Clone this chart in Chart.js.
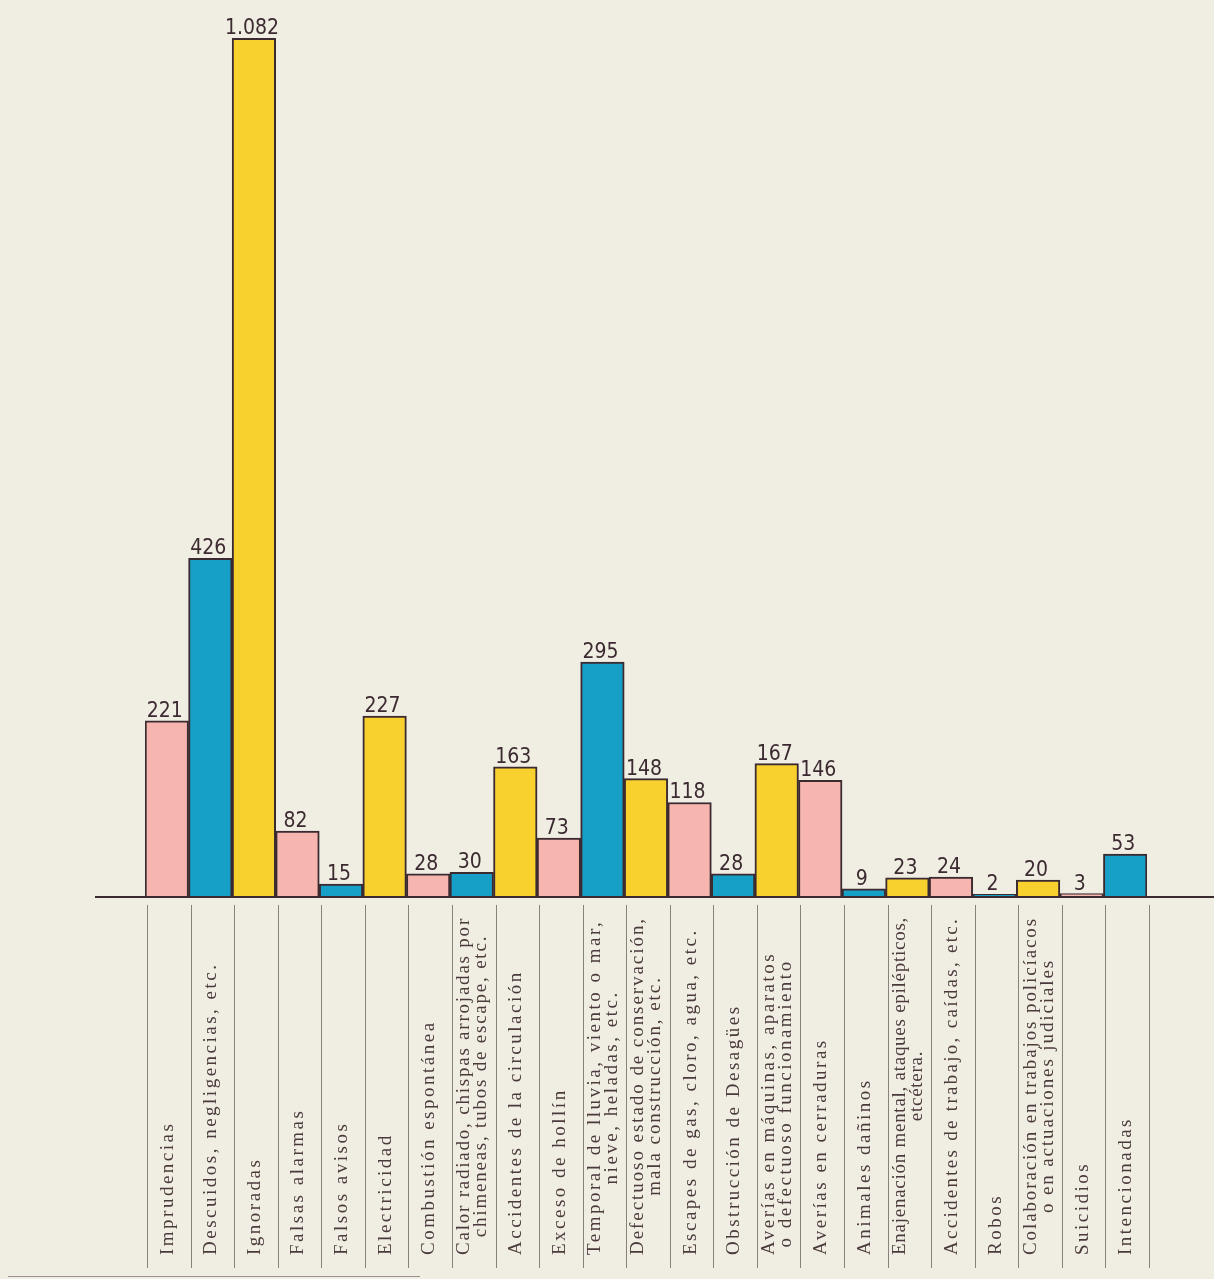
<!DOCTYPE html>
<html>
<head>
<meta charset="utf-8">
<script src="https://cdn.jsdelivr.net/npm/chart.js@4"></script>
<style>
  body { margin: 0; background: #f0ede3; }
  canvas { display: block; }
</style>
</head>
<body>
<canvas id="chart" width="1214" height="1279"></canvas>
<script>
// causes of fire calls, one bar each
const categories = [
    ['Imprudencias'],
    ['Descuidos, negligencias, etc.'],
    ['Ignoradas'],
    ['Falsas alarmas'],
    ['Falsos avisos'],
    ['Electricidad'],
    ['Combustión espontánea'],
    ['Calor radiado, chispas arrojadas por', 'chimeneas, tubos de escape, etc.'],
    ['Accidentes de la circulación'],
    ['Exceso de hollín'],
    ['Temporal de lluvia, viento o mar,', 'nieve, heladas, etc.'],
    ['Defectuoso estado de conservación,', 'mala construcción, etc.'],
    ['Escapes de gas, cloro, agua, etc.'],
    ['Obstrucción de Desagües'],
    ['Averías en máquinas, aparatos', 'o defectuoso funcionamiento'],
    ['Averías en cerraduras'],
    ['Animales dañinos'],
    ['Enajenación mental, ataques epilépticos,', 'etcétera.'],
    ['Accidentes de trabajo, caídas, etc.'],
    ['Robos'],
    ['Colaboración en trabajos policíacos', 'o en actuaciones judiciales'],
    ['Suicidios'],
    ['Intencionadas']
];

const values = [221, 426, 1082, 82, 15, 227, 28, 30, 163, 73, 295, 148, 118, 28, 167, 146, 9, 23, 24, 2, 20, 3, 53];

const valueLabels = ['221', '426', '1.082', '82', '15', '227', '28', '30', '163', '73', '295', '148', '118', '28', '167', '146', '9', '23', '24', '2', '20', '3', '53'];

const palette = ['#f6b5ae', '#16a0c8', '#f9d12e'];

const ink = '#3b2a30';

const decorPlugin = {
    id: 'decor',
    beforeDraw(chart) {
        const ctx = chart.ctx;
        ctx.save();
        ctx.fillStyle = '#f0ede3';
        ctx.fillRect(0, 0, chart.width, chart.height);
        ctx.restore();
    },
    afterDatasetsDraw(chart) {
        const ctx = chart.ctx;
        const x = chart.scales.x;
        const y = chart.scales.y;
        const base = y.getPixelForValue(0);
        const step = (chart.chartArea.right - chart.chartArea.left) / categories.length;

        ctx.save();
        // baseline
        ctx.strokeStyle = ink;
        ctx.lineWidth = 2;
        ctx.beginPath();
        ctx.moveTo(95, base + 1);
        ctx.lineTo(1214, base + 1);
        ctx.stroke();

        // column separators under the axis
        ctx.strokeStyle = '#8a807c';
        ctx.lineWidth = 1;
        for (let i = 0; i <= categories.length; i++) {
            const px = Math.round(chart.chartArea.left + i * step + 2) + 0.5;
            ctx.beginPath();
            ctx.moveTo(px, base + 9);
            ctx.lineTo(px, 1268);
            ctx.stroke();
        }
        ctx.strokeStyle = '#9a918c';
        ctx.beginPath();
        ctx.moveTo(8, 1276.5);
        ctx.lineTo(420, 1276.5);
        ctx.stroke();

        // value labels over the bars
        ctx.fillStyle = ink;
        ctx.font = "21px 'Liberation Sans Narrow', 'DejaVu Sans Condensed', 'Liberation Sans', sans-serif";
        ctx.textAlign = 'center';
        ctx.textBaseline = 'alphabetic';
        values.forEach((v, i) => {
            const cx = x.getPixelForValue(i) - 2;
            const top = y.getPixelForValue(v);
            ctx.fillText(valueLabels[i], cx, top - 4);
        });

        // rotated category labels, spacing squeezed so long ones fit the column
        ctx.fillStyle = '#4a3a3c';
        ctx.font = "19px 'Liberation Serif', 'DejaVu Serif', serif";
        ctx.textBaseline = 'middle';
        const maxLen = 338;
        categories.forEach((lines, i) => {
            const cx = x.getPixelForValue(i) + 1;
            ctx.letterSpacing = '0px';
            const longest = lines.reduce((a, b) => (ctx.measureText(b).width > ctx.measureText(a).width ? b : a));
            const natural = ctx.measureText(longest).width;
            const spacing = Math.max(0, Math.min(2.5, (maxLen - natural) / longest.length));
            ctx.letterSpacing = spacing + 'px';
            const widest = Math.max(...lines.map(l => ctx.measureText(l).width));
            lines.forEach((line, j) => {
                const off = (j - (lines.length - 1) / 2) * 17;
                ctx.save();
                ctx.translate(cx + off, 1255 - widest / 2);
                ctx.rotate(-Math.PI / 2);
                ctx.textAlign = 'center';
                ctx.fillText(line, 0, 0);
                ctx.restore();
            });
        });
        ctx.restore();
    }
};

function renderChart() {
    const ctx = document.getElementById('chart').getContext('2d');
    new Chart(ctx, {
        type: 'bar',
        data: {
            labels: categories,
            datasets: [{
                data: values,
                backgroundColor: values.map((v, i) => palette[i % 3]),
                borderColor: ink,
                borderWidth: 2,
                categoryPercentage: 1,
                barPercentage: 1
            }]
        },
        options: {
            responsive: false,
            animation: false,
            devicePixelRatio: 1,
            layout: {
                padding: { left: 145, right: 67, top: 24, bottom: 383 }
            },
            scales: {
                x: { display: false, offset: true },
                y: { display: false, min: 0, max: 1100 }
            },
            plugins: {
                legend: { display: false },
                tooltip: { enabled: false }
            }
        },
        plugins: [decorPlugin]
    });
}

document.addEventListener('DOMContentLoaded', renderChart);
</script>
</body>
</html>
